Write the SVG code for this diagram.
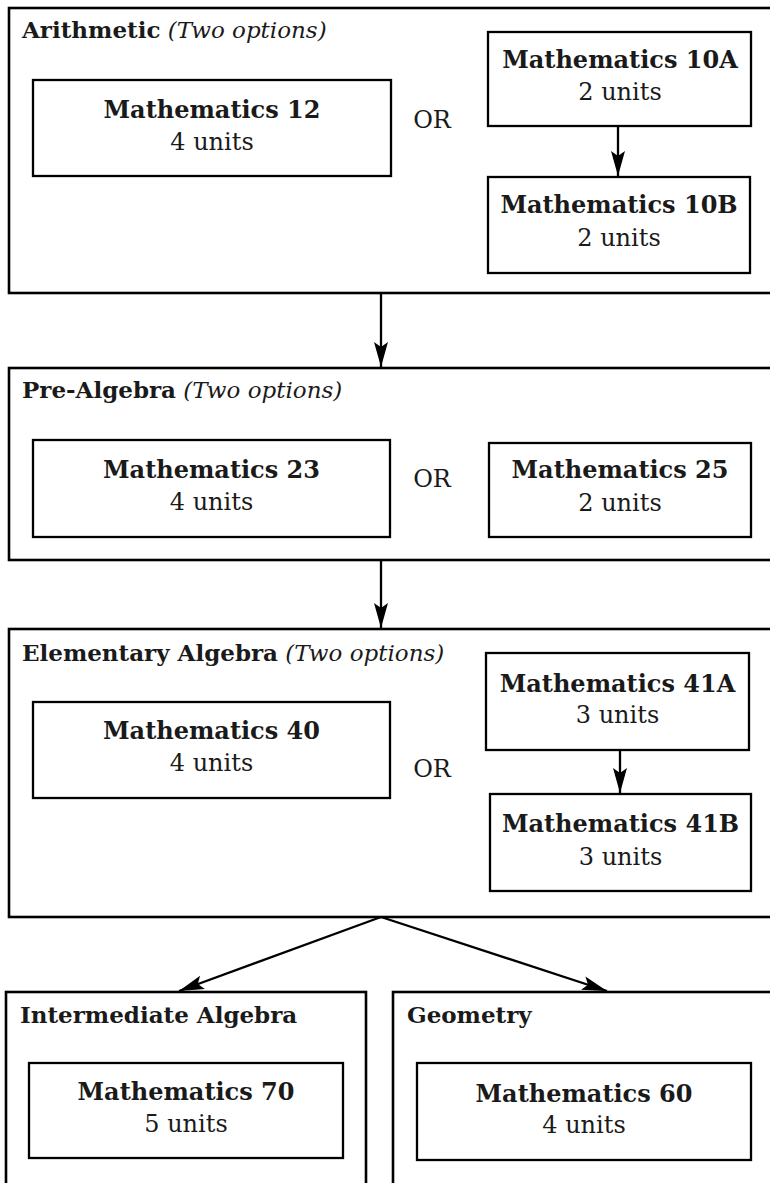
<svg xmlns="http://www.w3.org/2000/svg" width="770" height="1183" viewBox="0 0 770 1183">
<defs>
<style>
.outer{fill:none;stroke:#000;stroke-width:2.6}
.box{fill:#fff;stroke:#000;stroke-width:2.3}
text{font-family:"DejaVu Serif","Liberation Serif",serif;font-size:24px;fill:#1a1a1a}
.t{font-size:23px}
.b{font-weight:bold}
.i{font-style:italic;font-weight:normal}
.c{text-anchor:middle}
.edge{fill:none;stroke:#000;stroke-width:2.3}
</style>
<marker id="arr" markerUnits="userSpaceOnUse" markerWidth="28" markerHeight="18" viewBox="-26 -9 28 18" refX="0" refY="0" orient="auto">
<path d="M0,0 L-25,-7 L-20,0 L-25,7 z" fill="#000"/>
</marker>
</defs>

<g id="arithmetic">
<rect class="outer" x="9" y="8" width="780" height="285"/>
<text x="22" y="38" class="t"><tspan class="b">Arithmetic</tspan> <tspan class="i">(Two options)</tspan></text>
<text x="432" y="128" class="c">OR</text>
</g>
<g id="math12">
<rect class="box" x="33" y="80" width="358" height="96"/>
<text x="212" y="118" class="c b">Mathematics 12</text>
<text x="212" y="150" class="c">4 units</text>
</g>
<g id="math10a">
<rect class="box" x="488" y="32" width="263" height="94"/>
<text x="620" y="68" class="c b">Mathematics 10A</text>
<text x="620" y="100" class="c">2 units</text>
</g>
<g id="math10b">
<rect class="box" x="488" y="177" width="262" height="96"/>
<text x="619" y="213" class="c b">Mathematics 10B</text>
<text x="619" y="246" class="c">2 units</text>
</g>

<g id="prealgebra">
<rect class="outer" x="9" y="368" width="780" height="192"/>
<text x="22" y="398" class="t"><tspan class="b">Pre-Algebra</tspan> <tspan class="i">(Two options)</tspan></text>
<text x="432" y="487" class="c">OR</text>
</g>
<g id="math23">
<rect class="box" x="33" y="440" width="357" height="97"/>
<text x="211.5" y="478" class="c b">Mathematics 23</text>
<text x="211.5" y="510" class="c">4 units</text>
</g>
<g id="math25">
<rect class="box" x="489" y="443" width="262" height="94"/>
<text x="620" y="478" class="c b">Mathematics 25</text>
<text x="620" y="511" class="c">2 units</text>
</g>

<g id="elementary">
<rect class="outer" x="9" y="629" width="780" height="288"/>
<text x="22" y="661" class="t"><tspan class="b">Elementary Algebra</tspan> <tspan class="i">(Two options)</tspan></text>
<text x="432" y="777" class="c">OR</text>
</g>
<g id="math40">
<rect class="box" x="33" y="702" width="357" height="96"/>
<text x="211.5" y="739" class="c b">Mathematics 40</text>
<text x="211.5" y="771" class="c">4 units</text>
</g>
<g id="math41a">
<rect class="box" x="486" y="653" width="263" height="97"/>
<text x="617.5" y="692" class="c b">Mathematics 41A</text>
<text x="617.5" y="723" class="c">3 units</text>
</g>
<g id="math41b">
<rect class="box" x="490" y="794" width="261" height="97"/>
<text x="620.5" y="832" class="c b">Mathematics 41B</text>
<text x="620.5" y="865" class="c">3 units</text>
</g>

<g id="intermediate">
<rect class="outer" x="6" y="992" width="360" height="220"/>
<text x="20" y="1023" class="t b">Intermediate Algebra</text>
</g>
<g id="math70">
<rect class="box" x="29" y="1063" width="314" height="95"/>
<text x="186" y="1100" class="c b">Mathematics 70</text>
<text x="186" y="1132" class="c">5 units</text>
</g>
<g id="geometry">
<rect class="outer" x="393" y="992" width="400" height="220"/>
<text x="407" y="1023" class="t b">Geometry</text>
</g>
<g id="math60">
<rect class="box" x="417" y="1063" width="334" height="97"/>
<text x="584" y="1102" class="c b">Mathematics 60</text>
<text x="584" y="1133" class="c">4 units</text>
</g>

<g id="connectors">
<line class="edge" x1="618" y1="126" x2="618" y2="176" marker-end="url(#arr)"/>
<line class="edge" x1="381" y1="293" x2="381" y2="367" marker-end="url(#arr)"/>
<line class="edge" x1="381" y1="560" x2="381" y2="628" marker-end="url(#arr)"/>
<line class="edge" x1="620" y1="750" x2="620" y2="793" marker-end="url(#arr)"/>
<line class="edge" x1="381" y1="917" x2="179" y2="991" marker-end="url(#arr)"/>
<line class="edge" x1="381" y1="917" x2="607" y2="991" marker-end="url(#arr)"/>
</g>
</svg>
